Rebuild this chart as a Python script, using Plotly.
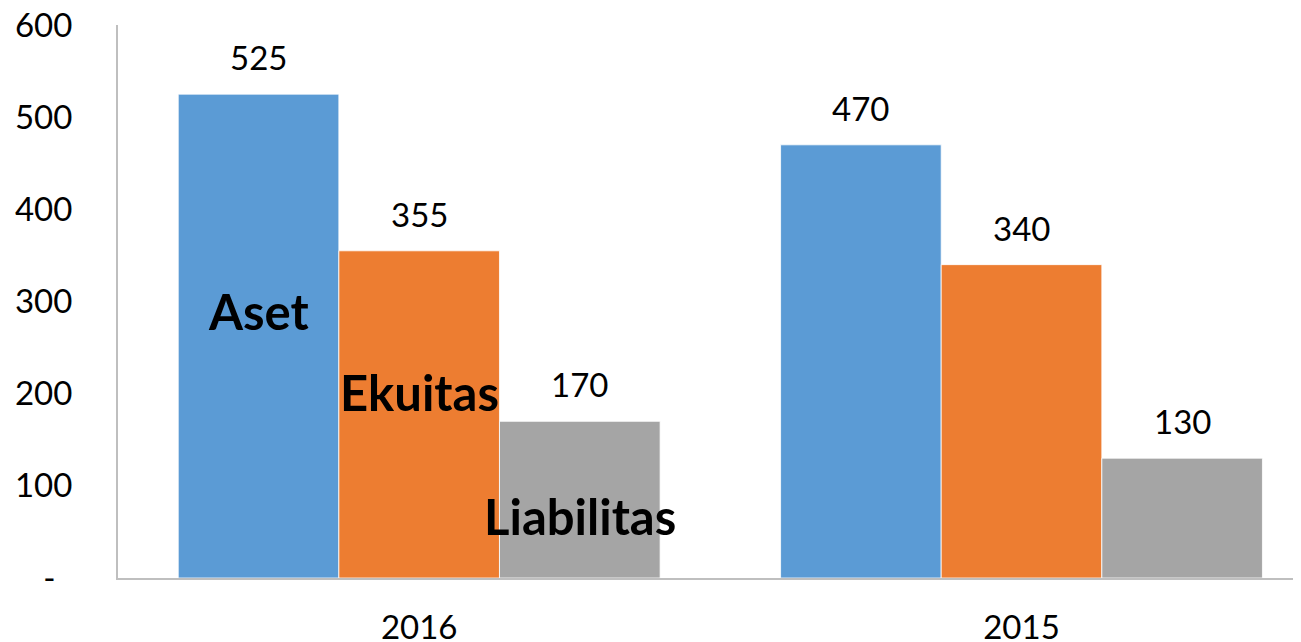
import plotly.graph_objects as go

categories = ["2016", "2015"]
series_names = ["Aset", "Ekuitas", "Liabilitas"]
aset = [525, 470]
ekuitas = [355, 340]
liabilitas = [170, 130]
colors = ["#5B9BD5", "#ED7D31", "#A5A5A5"]
ytick_vals = [0, 100, 200, 300, 400, 500, 600]
ytick_text = ["-\u00a0\u00a0", "100", "200", "300", "400", "500", "600"]
# in-bar series name labels: y-value where each label sits, in group 2016
name_label_y = [290, 202, 67]

FONT = "Lato"
values = [aset, ekuitas, liabilitas]

fig = go.Figure()
for name, vals, col in zip(series_names, values, colors):
    fig.add_trace(go.Bar(x=categories, y=vals, name=name,
                         marker=dict(color=col, line=dict(color="white", width=0.8)),
                         showlegend=False))

n = len(series_names)
bargap = 0.2
bw = (1 - bargap) / n
annotations = []
for si, vals in enumerate(values):
    off = (si - (n - 1) / 2) * bw
    for ci, v in enumerate(vals):
        annotations.append(dict(x=ci + off, y=v, xref="x", yref="y", text=str(v),
                                showarrow=False, yanchor="bottom", yshift=15,
                                font=dict(family=FONT, size=33, color="black")))
for si, name in enumerate(series_names):
    off = (si - (n - 1) / 2) * bw
    annotations.append(dict(x=0 + off, y=name_label_y[si], xref="x", yref="y",
                            text="<b>" + name + "</b>", showarrow=False,
                            font=dict(family=FONT, size=49, color="black")))

# the page body adds an 8px offset; margins compensate for it
fig.update_layout(
    width=1301, height=642,
    margin=dict(l=110, r=8, t=17, b=72, autoexpand=False),
    paper_bgcolor="white", plot_bgcolor="white",
    barmode="group", bargap=bargap, bargroupgap=0,
    annotations=annotations,
    font=dict(family=FONT, size=33, color="black"),
)
fig.update_xaxes(range=[-0.5, 1.464], showline=True, linecolor="#BFBFBF", linewidth=2,
                 showgrid=False, ticks="outside", ticklen=19, tickcolor="rgba(0,0,0,0)",
                 automargin=False, ticklabeloverflow="allow",
                 tickfont=dict(family=FONT, size=33, color="black"))
fig.update_yaxes(range=[0, 600], tickvals=ytick_vals, ticktext=ytick_text,
                 showline=True, linecolor="#BFBFBF", linewidth=2, showgrid=False,
                 zeroline=False, ticks="outside", ticklen=37, tickcolor="rgba(0,0,0,0)",
                 automargin=False, ticklabeloverflow="allow",
                 tickfont=dict(family=FONT, size=33, color="black"))

fig.write_html("out.html")
